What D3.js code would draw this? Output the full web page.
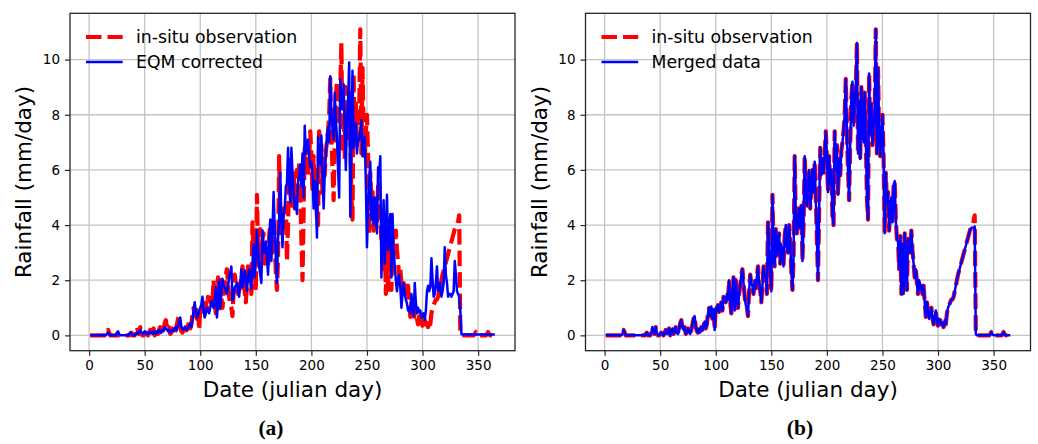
<!DOCTYPE html>
<html><head><meta charset="utf-8">
<script src="https://cdn.jsdelivr.net/npm/d3@7"></script>
<style>
html,body{margin:0;padding:0;background:#fff;}
svg{display:block;}
text{font-family:"DejaVu Sans",sans-serif;fill:#000;}
</style></head>
<body>
<svg id="chart" width="1038" height="444"></svg>
<script>
// ---- data (daily rainfall, mm/day, julian days 1..365) ----
const xTicks = [0, 50, 100, 150, 200, 250, 300, 350];
const yTicks = [0, 2, 4, 6, 8, 10];

const obs = [
0,0,0,0,0,0,0,0,0,0,
0,0,0,0,0,0.05,0.2,0.1,0,0,
0,0,0,0,0,0,0,0,0,0,
0,0,0,0,0,0,0.05,0.1,0,0,
0,0.1,0.3,0.15,0.05,0.3,0.1,0,0,0.05,
0.1,0.05,0,0.1,0.2,0.05,0.15,0.25,0,0.1,
0.25,0.05,0.2,0.3,0.1,0.05,0.15,0.45,0.55,0.3,
0.2,0.3,0.05,0.1,0.25,0.15,0.05,0.2,0.4,0.6,
0.7,0.3,0.15,0.1,0.25,0.1,0.3,0.2,0.35,0.5,
0.25,0.4,0.8,1.0,0.7,1.05,0.6,0.95,0.2,1.0,
0.9,1.1,0.85,1.0,1.2,0.9,1.4,1.3,1.2,1.5,
1.3,2.0,1.2,0.8,1.6,2.1,0.9,2.0,1.4,1.0,
1.5,1.8,2.2,2.4,1.9,1.4,1.1,1.0,0.7,1.6,
2.2,1.9,1.8,1.5,2.0,1.7,2.1,2.5,1.9,1.6,
1.2,1.8,2.5,2.1,2.2,1.5,4.1,3.0,2.4,1.6,
5.1,3.1,2.5,3.85,2.9,3.5,3.7,2.6,3.3,3.0,
2.5,3.6,4.0,3.2,3.0,4.0,3.4,2.3,1.65,2.8,
6.5,4.3,3.7,4.2,4.6,3.9,4.7,2.7,4.0,6.5,
5.5,4.7,5.4,6.0,4.6,5.3,6.0,5.2,6.3,5.0,
3.5,2.0,4.5,6.8,5.8,6.4,5.9,6.6,7.4,6.5,
5.2,6.5,5.5,6.0,4.3,4.0,7.4,6.0,6.9,5.1,
6.4,5.8,6.7,7.0,7.4,8.0,9.3,7.3,6.0,4.9,
7.0,8.6,9.2,7.6,8.4,9.0,10.6,6.6,8.5,6.4,
9.0,7.9,7.0,8.8,7.2,5.0,4.2,9.5,7.3,8.4,
6.9,7.5,8.0,11.1,6.6,9.7,7.2,6.5,7.4,8.0,
6.5,3.7,5.9,4.8,5.2,3.8,4.6,5.0,4.1,5.4,
5.6,4.2,3.5,3.4,2.4,3.6,1.5,3.3,1.5,3.7,
2.6,1.65,3.5,3.25,3.0,3.8,3.1,2.6,2.1,2.4,
1.9,1.5,2.0,1.7,1.8,1.5,1.8,1.2,0.67,1.2,
0.9,0.6,0.8,1.0,0.6,0.4,0.7,0.9,0.5,0.35,
0.6,0.55,0.4,0.45,0.3,0.55,0.4,0.8,1.0,1.1,
1.2,1.3,1.3,1.4,1.6,1.8,2.0,2.2,2.35,2.5,
2.65,2.8,2.95,3.1,3.25,3.4,3.55,3.7,3.85,3.95,
4.0,4.15,4.35,0.05,0,0,0,0,0,0,
0,0,0,0,0,0,0.05,0.12,0.03,0,
0,0,0,0,0,0,0,0.05,0.12,0.03,
0,0,0,0,0
];

const eqm = [
0,0,0,0,0,0,0,0,0,0,
0,0,0,0,0,0.05,0.1,0.05,0,0,
0,0,0,0,0.1,0.15,0.05,0,0,0,
0,0,0,0,0,0.05,0.1,0.05,0,0,
0,0.05,0.1,0.05,0.15,0.2,0.1,0.05,0.1,0.15,
0.05,0.1,0.05,0.1,0.15,0.1,0.05,0.15,0.1,0.05,
0.15,0.1,0.2,0.15,0.1,0.2,0.15,0.3,0.25,0.2,
0.15,0.2,0.1,0.15,0.2,0.15,0.25,0.3,0.2,0.35,
0.5,0.65,0.3,0.25,0.2,0.3,0.25,0.2,0.3,0.35,
0.45,0.3,0.55,0.9,1.2,0.9,0.65,0.7,0.9,1.0,
1.1,1.4,0.9,0.65,0.8,1.0,0.9,0.8,1.0,1.25,
1.1,1.0,1.3,1.75,0.65,1.2,2.0,1.0,1.5,2.05,
1.8,1.75,1.6,1.5,1.8,2.1,2.3,2.5,1.25,1.4,
1.75,1.8,1.9,1.6,1.4,1.9,2.4,1.75,2.0,2.35,
2.0,1.6,2.1,2.4,2.0,1.7,2.6,3.3,2.1,2.8,
3.8,3.1,2.5,2.2,1.9,3.8,3.0,3.0,3.4,2.8,
2.2,3.5,4.2,2.7,3.8,5.2,3.9,2.8,1.9,3.5,
4.2,5.9,4.2,3.2,4.4,4.6,5.4,5.5,6.8,5.6,
4.8,6.8,5.9,5.1,4.6,5.0,4.4,5.6,5.8,6.2,
5.4,6.6,5.0,7.6,6.6,6.9,7.1,6.5,6.1,6.3,
5.8,4.6,5.6,4.8,3.55,7.2,6.5,6.2,7.25,5.8,
4.6,5.85,6.5,7.3,7.55,7.0,9.4,8.0,7.5,7.1,
8.8,7.8,7.2,6.0,5.0,9.3,8.5,8.2,9.1,7.5,
6.0,7.8,8.5,9.9,4.3,7.0,9.6,6.8,7.5,7.7,
6.6,7.1,7.1,7.4,7.8,6.5,6.9,7.2,5.5,3.2,
4.6,5.5,6.3,4.2,5.0,4.0,5.0,4.4,3.7,6.1,
5.8,6.5,2.1,3.5,4.9,2.6,3.8,5.1,3.1,3.8,
4.4,2.1,4.4,3.1,2.5,2.0,1.6,2.0,2.2,1.75,
1.0,1.5,1.9,1.5,1.3,1.15,0.9,1.0,0.8,1.5,
1.1,0.7,1.9,1.2,0.8,1.0,0.85,0.9,0.65,0.7,
0.8,0.55,0.9,1.6,1.8,1.6,1.75,2.8,2.0,1.4,
1.5,1.9,2.5,1.6,1.7,1.9,1.4,1.6,1.9,3.2,
2.2,1.9,1.4,1.5,1.5,1.4,1.5,1.6,2.7,2.2,
1.6,1.5,1.4,0.9,0.05,0.03,0.03,0.03,0.03,0.03,
0.03,0.03,0.03,0.03,0.03,0.03,0.03,0.03,0.03,0.03,
0.03,0.03,0.03,0.03,0.03,0.03,0.03,0.03,0.03,0.03,
0.03,0.03,0.03,0.03,0.03
];

const merged = [
0,0,0,0,0,0,0,0,0,0,
0,0,0,0,0,0.05,0.2,0.1,0,0,
0,0,0,0,0,0,0,0,0,0,
0,0,0,0,0,0,0.05,0.1,0,0,
0,0.1,0.3,0.15,0.05,0.3,0.1,0,0,0.05,
0.1,0.05,0,0.1,0.2,0.05,0.15,0.25,0,0.1,
0.25,0.05,0.2,0.3,0.1,0.05,0.15,0.45,0.55,0.3,
0.2,0.3,0.05,0.1,0.25,0.15,0.05,0.2,0.4,0.6,
0.7,0.3,0.15,0.1,0.25,0.1,0.3,0.2,0.35,0.5,
0.25,0.4,0.8,1.0,0.7,1.05,0.6,0.95,0.2,1.0,
0.9,1.1,0.85,1.0,1.2,0.9,1.4,1.3,1.2,1.5,
1.3,2.0,1.2,0.8,1.6,2.1,0.9,2.0,1.4,1.0,
1.5,1.8,2.2,2.4,1.9,1.4,1.1,1.0,0.7,1.6,
2.2,1.9,1.8,1.5,2.0,1.7,2.1,2.5,1.9,1.6,
1.2,1.8,2.5,2.1,2.2,1.5,4.1,3.0,2.4,1.6,
5.1,3.1,2.5,3.85,2.9,3.5,3.7,2.6,3.3,3.0,
2.5,3.6,4.0,3.2,3.0,4.0,3.4,2.3,1.65,2.8,
6.5,4.3,3.7,4.2,4.6,3.9,4.7,2.7,4.0,6.5,
5.5,4.7,5.4,6.0,4.6,5.3,6.0,5.2,6.3,5.0,
3.5,2.0,4.5,6.8,5.8,6.4,5.9,6.6,7.4,6.5,
5.2,6.5,5.5,6.0,4.3,4.0,7.4,6.0,6.9,5.1,
6.4,5.8,6.7,7.0,7.4,8.0,9.3,7.3,6.0,4.9,
7.0,8.6,9.2,7.6,8.4,9.0,10.6,6.6,8.5,6.4,
9.0,7.9,7.0,8.8,7.2,5.0,4.2,9.5,7.3,8.4,
6.9,7.5,8.0,11.1,6.6,9.7,7.2,6.5,7.4,8.0,
6.5,3.7,5.9,4.8,5.2,3.8,4.6,5.0,4.1,5.4,
5.6,4.2,3.5,3.4,2.4,3.6,1.5,3.3,1.5,3.7,
2.6,1.65,3.5,3.25,3.0,3.8,3.1,2.6,2.1,2.4,
1.9,1.5,2.0,1.7,1.8,1.5,1.8,1.2,0.67,1.2,
0.9,0.6,0.8,1.0,0.6,0.4,0.7,0.9,0.5,0.35,
0.6,0.55,0.4,0.45,0.3,0.55,0.4,0.8,1.0,1.1,
1.2,1.3,1.3,1.4,1.6,1.8,2.0,2.2,2.35,2.5,
2.65,2.8,2.95,3.1,3.25,3.4,3.55,3.7,3.85,3.9,
3.9,3.88,3.95,0.05,0,0,0,0,0,0,
0,0,0,0,0,0,0.05,0.12,0.03,0,
0,0,0,0,0,0,0,0.05,0.12,0.03,
0,0,0,0,0
];

const panels = [
  { left: 70,    series: [obs, eqm],    labels: ["in-situ observation", "EQM corrected"], caption: "(a)", capX: 271 },
  { left: 585.5, series: [obs, merged], labels: ["in-situ observation", "Merged data"],   caption: "(b)", capX: 800 }
];

// ---- layout ----
const W = 445, plotTop = 13.3, plotBottom = 350.7;
const svg = d3.select("#chart");
const x = d3.scaleLinear().domain([-17.2, 383.2]).range([0, W]);
const y = d3.scaleLinear().domain([-0.556, 11.68]).range([plotBottom, plotTop]);

const styles = [
  { stroke: "#ff0000", width: 4.2, dash: "15.5 6" },
  { stroke: "#0000ff", width: 2.5, dash: null }
];

panels.forEach(p => {
  const g = svg.append("g").attr("transform", `translate(${p.left},0)`);

  // grid
  g.append("g").selectAll("line").data(xTicks).join("line")
    .attr("x1", d => x(d)).attr("x2", d => x(d))
    .attr("y1", plotTop).attr("y2", plotBottom)
    .attr("stroke", "#c4c4c4").attr("stroke-width", 1.3);
  g.append("g").selectAll("line").data(yTicks).join("line")
    .attr("x1", 0).attr("x2", W)
    .attr("y1", d => y(d)).attr("y2", d => y(d))
    .attr("stroke", "#c4c4c4").attr("stroke-width", 1.3);

  // series
  p.series.forEach((s, i) => {
    const line = d3.line().x((d, k) => x(k + 1)).y(d => y(d));
    g.append("path").datum(s)
      .attr("d", line)
      .attr("fill", "none")
      .attr("stroke", styles[i].stroke)
      .attr("stroke-width", styles[i].width)
      .attr("stroke-linejoin", "round")
      .attr("stroke-dasharray", styles[i].dash);
  });

  // frame
  g.append("rect").attr("x", 0).attr("y", plotTop).attr("width", W).attr("height", plotBottom - plotTop)
    .attr("fill", "none").attr("stroke", "#262626").attr("stroke-width", 1.3);

  // axes
  const xa = g.append("g").attr("transform", `translate(0,${plotBottom})`)
    .call(d3.axisBottom(x).tickValues(xTicks).tickSize(5).tickPadding(5).tickFormat(d3.format("d")));
  const ya = g.append("g")
    .call(d3.axisLeft(y).tickValues(yTicks).tickSize(5).tickPadding(5).tickFormat(d3.format("d")));
  [xa, ya].forEach(a => {
    a.select(".domain").remove();
    a.selectAll(".tick line").attr("stroke", "#262626").attr("stroke-width", 1.2);
    a.selectAll(".tick text").attr("fill", "#000")
      .style("font-family", "'DejaVu Sans', sans-serif").style("font-size", "13.5px");
  });

  // axis labels
  g.append("text").attr("x", W / 2).attr("y", 397.3).attr("text-anchor", "middle")
    .style("font-size", "21.5px").text("Date (julian day)");
  g.append("text").attr("transform", `translate(-39,${(plotTop + plotBottom) / 2}) rotate(-90)`)
    .attr("text-anchor", "middle").style("font-size", "21.5px").text("Rainfall (mm/day)");

  // legend
  p.labels.forEach((lab, i) => {
    const ly = 37 + i * 25;
    g.append("line").attr("x1", 16).attr("x2", 52.7).attr("y1", ly).attr("y2", ly)
      .attr("stroke", styles[i].stroke).attr("stroke-width", styles[i].width)
      .attr("stroke-dasharray", styles[i].dash);
    g.append("text").attr("x", 66).attr("y", ly).attr("dy", "0.36em")
      .style("font-size", "17.3px").text(lab);
  });

  // caption
  svg.append("text").attr("x", p.capX).attr("y", 435).attr("text-anchor", "middle")
    .style("font-family", "'Liberation Serif', serif").style("font-weight", "bold")
    .style("font-size", "21.5px").text(p.caption);
});
</script>
</body></html>
